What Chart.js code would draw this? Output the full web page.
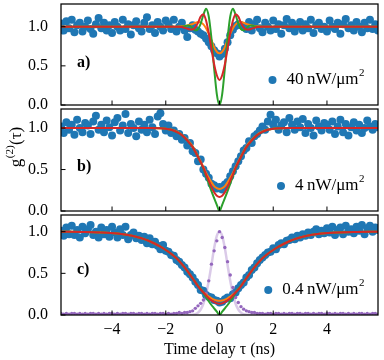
<!DOCTYPE html>
<html>
<head>
<meta charset="utf-8">
<script src="https://cdn.jsdelivr.net/npm/chart.js@4.4.0/dist/chart.umd.min.js"></script>
<style>
  html, body { margin: 0; padding: 0; background: #fff; }
  #wrap { position: relative; width: 384px; height: 360px; }
  #wrap canvas { position: absolute; left: 0; }
</style>
</head>
<body>
<div id="wrap">
  <canvas id="chartA" width="384" height="116" style="top:0px"></canvas>
  <canvas id="chartB" width="384" height="118" style="top:105px"></canvas>
  <canvas id="chartC" width="384" height="149" style="top:211px"></canvas>
</div>
<script>
// time delay bins (ns)
const tau = [
  -5.9, -5.8, -5.7, -5.6, -5.5, -5.4, -5.3, -5.2, -5.1, -5.0,
  -4.9, -4.8, -4.7, -4.6, -4.5, -4.4, -4.3, -4.2, -4.1, -4.0,
  -3.9, -3.8, -3.7, -3.6, -3.5, -3.4, -3.3, -3.2, -3.1, -3.0,
  -2.9, -2.8, -2.7, -2.6, -2.5, -2.4, -2.3, -2.2, -2.1, -2.0,
  -1.9, -1.8, -1.7, -1.6, -1.5, -1.4, -1.3, -1.2, -1.1, -1.0,
  -0.9, -0.8, -0.7, -0.6, -0.5, -0.4, -0.3, -0.2, -0.1, 0,
  0.1, 0.2, 0.3, 0.4, 0.5, 0.6, 0.7, 0.8, 0.9,
  1.0, 1.1, 1.2, 1.3, 1.4, 1.5, 1.6, 1.7, 1.8, 1.9,
  2.0, 2.1, 2.2, 2.3, 2.4, 2.5, 2.6, 2.7, 2.8, 2.9,
  3.0, 3.1, 3.2, 3.3, 3.4, 3.5, 3.6, 3.7, 3.8, 3.9,
  4.0, 4.1, 4.2, 4.3, 4.4, 4.5, 4.6, 4.7, 4.8, 4.9,
  5.0, 5.1, 5.2, 5.3, 5.4, 5.5, 5.6, 5.7, 5.8, 5.9
];

// measured g2 - panel a (40 nW/um2)
const g2A = [
  1.04, 0.95, 1.07, 0.98, 1.09, 0.93, 1.02, 1.05, 0.94, 1.00,
  1.08, 0.97, 0.91, 1.03, 1.11, 0.98, 1.05, 0.95, 1.02, 0.92,
  1.06, 1.00, 0.95, 1.09, 0.97, 1.03, 0.90, 1.02, 1.07, 0.98,
  0.94, 1.05, 1.12, 0.97, 1.02, 0.92, 1.06, 1.00, 0.95, 1.08,
  1.03, 0.97, 1.09, 0.94, 1.00, 1.05, 0.95, 0.87, 0.98, 1.02,
  0.96, 0.94, 0.91, 0.89, 0.85, 0.80, 0.75, 0.70, 0.66, 0.62,
  0.65, 0.72, 0.80, 0.89, 0.96, 1.01, 1.03, 1.02, 1.00,
  0.97, 1.06, 0.95, 1.03, 1.09, 0.98, 0.93, 1.05, 1.00, 0.95,
  1.08, 0.97, 1.03, 0.91, 1.02, 1.10, 0.98, 1.05, 0.94, 1.00,
  1.06, 0.95, 1.03, 0.98, 1.09, 0.92, 1.02, 1.05, 0.97, 1.00,
  0.94, 1.08, 1.00, 0.97, 1.05, 0.91, 1.03, 1.10, 0.98, 1.02,
  0.95, 1.06, 1.00, 0.93, 1.05, 0.98, 1.09, 0.97, 1.03, 0.95
];

// panel b (4 nW/um2)
const g2B = [
  1.02, 0.94, 1.07, 0.98, 1.04, 0.92, 1.10, 1.00, 0.95, 1.06,
  1.03, 0.93, 1.08, 1.15, 0.98, 1.04, 0.95, 1.09, 1.01, 0.91,
  1.07, 1.12, 0.97, 1.03, 1.17, 0.94, 1.05, 1.00, 0.90, 1.08,
  0.98, 1.04, 0.95, 1.10, 1.01, 0.93, 1.14, 1.18, 1.05, 0.97,
  1.03, 0.94, 0.97, 0.90, 0.93, 0.86, 0.88, 0.79, 0.82, 0.72,
  0.70, 0.60, 0.62, 0.50, 0.45, 0.40, 0.33, 0.31, 0.27, 0.29,
  0.26, 0.32, 0.35, 0.42, 0.48, 0.54, 0.60, 0.66, 0.73,
  0.76, 0.84, 0.82, 0.90, 0.93, 0.97, 1.02, 0.98, 1.08, 1.16,
  1.04, 1.10, 0.98, 1.03, 1.07, 0.95, 1.12, 1.04, 0.98, 1.08,
  1.01, 1.11, 0.94, 1.05, 1.00, 0.91, 1.09, 1.02, 0.97, 1.06,
  1.04, 0.98, 1.08, 0.93, 1.02, 1.10, 0.95, 1.05, 0.91, 1.01,
  1.07, 0.97, 1.04, 0.94, 1.00, 1.09, 1.02, 0.98, 1.05, 1.01
];

// panel c (0.4 nW/um2)
const g2C = [
  1.01, 0.95, 1.05, 0.97, 1.07, 0.96, 1.02, 0.93, 1.06, 0.98,
  1.03, 1.08, 0.96, 1.00, 0.93, 1.05, 0.97, 1.02, 0.94, 1.06,
  0.99, 0.93, 1.03, 0.96, 1.06, 0.91, 0.96, 0.99, 0.92, 0.95,
  0.90, 0.94, 0.86, 0.92, 0.85, 0.88, 0.83, 0.79, 0.84, 0.77,
  0.76, 0.72, 0.71, 0.66, 0.64, 0.60, 0.57, 0.52, 0.49, 0.45,
  0.40, 0.36, 0.30, 0.29, 0.24, 0.22, 0.21, 0.18, 0.17, 0.15,
  0.16, 0.19, 0.21, 0.20, 0.25, 0.27, 0.32, 0.36, 0.39,
  0.45, 0.48, 0.54, 0.57, 0.62, 0.66, 0.69, 0.72, 0.75, 0.76,
  0.80, 0.79, 0.84, 0.86, 0.85, 0.89, 0.90, 0.93, 0.91, 0.95,
  0.93, 0.97, 0.95, 0.99, 0.96, 1.00, 1.03, 0.97, 1.01, 0.98,
  1.04, 0.99, 1.06, 0.96, 1.02, 1.05, 0.97, 1.07, 1.00, 1.03,
  0.98, 1.06, 1.01, 1.08, 0.97, 1.04, 1.07, 1.00, 1.05, 1.02
];

// instrument response (panel c, purple)
const irfC = [
  0.02, 0.01, 0.02, 0.01, 0.02, 0.02, 0.01, 0.02, 0.01, 0.02,
  0.01, 0.02, 0.02, 0.01, 0.02, 0.01, 0.02, 0.01, 0.02, 0.02,
  0.01, 0.02, 0.01, 0.02, 0.02, 0.01, 0.02, 0.02, 0.01, 0.02,
  0.02, 0.01, 0.02, 0.01, 0.02, 0.02, 0.01, 0.02, 0.02, 0.01,
  0.02, 0.01, 0.02, 0.02, 0.03, 0.02, 0.03, 0.03, 0.04, 0.05,
  0.08, 0.11, 0.14, 0.18, 0.26, 0.41, 0.61, 0.77, 0.89, 1.00,
  0.93, 0.81, 0.64, 0.48, 0.33, 0.21, 0.15, 0.10, 0.07,
  0.05, 0.04, 0.03, 0.03, 0.02, 0.02, 0.02, 0.01, 0.02, 0.02,
  0.01, 0.02, 0.02, 0.01, 0.02, 0.01, 0.02, 0.02, 0.01, 0.02,
  0.02, 0.01, 0.02, 0.02, 0.01, 0.02, 0.01, 0.02, 0.02, 0.01,
  0.02, 0.02, 0.01, 0.02, 0.01, 0.02, 0.02, 0.01, 0.02, 0.01,
  0.02, 0.01, 0.02, 0.02, 0.01, 0.02, 0.01, 0.02, 0.02, 0.01
];

// model curves, panel a
const fitTauA = [-5.9, -2.0, -1.6, -1.4, -1.3, -1.2, -1.1, -1.0, -0.9, -0.8, -0.7, -0.6, -0.5, -0.4, -0.3, -0.2, -0.1,
  0, 0.1, 0.2, 0.3, 0.4, 0.5, 0.6, 0.7, 0.8, 0.9, 1.0, 1.1, 1.2, 1.3, 1.4, 1.6, 2.0, 5.9];
const greenA = [1.0, 1.0, 1.0, 1.0, 1.005, 1.015, 1.01, 0.98, 0.955, 0.97, 1.04, 1.15, 1.23, 1.13, 0.85, 0.47, 0.14,
  0.0, 0.14, 0.47, 0.85, 1.13, 1.23, 1.15, 1.04, 0.97, 0.955, 0.98, 1.01, 1.015, 1.005, 1.0, 1.0, 1.0, 1.0];
const redA = [1.0, 1.0, 1.0, 0.995, 0.985, 0.975, 0.965, 0.965, 0.99, 1.05, 1.13, 1.16, 1.08, 0.92, 0.72, 0.52, 0.38,
  0.32, 0.38, 0.52, 0.72, 0.92, 1.08, 1.16, 1.13, 1.05, 0.99, 0.965, 0.965, 0.975, 0.985, 0.995, 1.0, 1.0, 1.0];
const orangeA = [1.0, 1.0, 1.0, 1.005, 1.01, 1.015, 1.025, 1.035, 1.05, 1.06, 1.055, 1.03, 0.98, 0.91, 0.83, 0.74, 0.68,
  0.66, 0.68, 0.74, 0.83, 0.91, 0.98, 1.03, 1.055, 1.06, 1.05, 1.035, 1.025, 1.015, 1.01, 1.005, 1.0, 1.0, 1.0];

// model curves, panel b
const fitTauB = [-5.9, -2.6, -2.2, -2.0, -1.8, -1.6, -1.4, -1.2, -1.0, -0.8, -0.6, -0.5, -0.4, -0.3, -0.2, -0.1,
  0, 0.1, 0.2, 0.3, 0.4, 0.5, 0.6, 0.8, 1.0, 1.2, 1.4, 1.6, 1.8, 2.0, 2.2, 2.6, 5.9];
const orangeB = [1.0, 1.0, 0.998, 0.993, 0.982, 0.96, 0.92, 0.86, 0.78, 0.66, 0.53, 0.46, 0.40, 0.345, 0.30, 0.275,
  0.265, 0.275, 0.30, 0.345, 0.40, 0.46, 0.53, 0.66, 0.78, 0.86, 0.92, 0.96, 0.982, 0.993, 0.998, 1.0, 1.0];
const redB = [1.0, 1.0, 0.998, 0.993, 0.98, 0.955, 0.915, 0.85, 0.77, 0.65, 0.52, 0.44, 0.365, 0.29, 0.225, 0.185,
  0.17, 0.185, 0.225, 0.29, 0.365, 0.44, 0.52, 0.65, 0.77, 0.85, 0.915, 0.955, 0.98, 0.993, 0.998, 1.0, 1.0];
const greenB = [1.0, 1.0, 0.998, 0.993, 0.98, 0.955, 0.915, 0.85, 0.77, 0.65, 0.51, 0.42, 0.33, 0.24, 0.155, 0.075,
  0.0, 0.075, 0.155, 0.24, 0.33, 0.42, 0.51, 0.65, 0.77, 0.85, 0.915, 0.955, 0.98, 0.993, 0.998, 1.0, 1.0];

// model curves, panel c
const fitTauC = [-5.9, -5.0, -4.4, -3.8, -3.4, -3.0, -2.8, -2.6, -2.4, -2.2, -2.0, -1.8, -1.6, -1.4, -1.2, -1.0,
  -0.8, -0.7, -0.6, -0.5, -0.4, -0.3, -0.2, -0.1, 0, 0.1, 0.2, 0.3, 0.4, 0.5, 0.6, 0.7, 0.8,
  1.0, 1.2, 1.4, 1.6, 1.8, 2.0, 2.2, 2.4, 2.6, 2.8, 3.0, 3.4, 3.8, 4.4, 5.0, 5.9];
const orangeC = [1.0, 0.997, 0.99, 0.977, 0.96, 0.93, 0.91, 0.885, 0.855, 0.82, 0.78, 0.735, 0.68, 0.61, 0.53, 0.44,
  0.35, 0.31, 0.275, 0.245, 0.22, 0.20, 0.185, 0.175, 0.17, 0.175, 0.185, 0.20, 0.22, 0.245, 0.275, 0.31, 0.35,
  0.44, 0.53, 0.61, 0.68, 0.735, 0.78, 0.82, 0.855, 0.885, 0.91, 0.93, 0.96, 0.977, 0.99, 0.997, 1.0];
const redC = [1.0, 0.997, 0.99, 0.977, 0.96, 0.93, 0.91, 0.885, 0.855, 0.82, 0.78, 0.735, 0.68, 0.61, 0.53, 0.44,
  0.345, 0.305, 0.27, 0.235, 0.20, 0.175, 0.155, 0.14, 0.135, 0.14, 0.155, 0.175, 0.20, 0.235, 0.27, 0.305, 0.345,
  0.44, 0.53, 0.61, 0.68, 0.735, 0.78, 0.82, 0.855, 0.885, 0.91, 0.93, 0.96, 0.977, 0.99, 0.997, 1.0];
const greenC = [1.0, 0.997, 0.99, 0.977, 0.96, 0.93, 0.91, 0.885, 0.855, 0.82, 0.78, 0.735, 0.68, 0.61, 0.53, 0.44,
  0.35, 0.31, 0.265, 0.215, 0.165, 0.12, 0.08, 0.04, 0.0, 0.04, 0.08, 0.12, 0.165, 0.215, 0.265, 0.31, 0.35,
  0.44, 0.53, 0.61, 0.68, 0.735, 0.78, 0.82, 0.855, 0.885, 0.91, 0.93, 0.96, 0.977, 0.99, 0.997, 1.0];

// IRF fit line
const irfTau = [-5.9, -1.2, -1.0, -0.9, -0.8, -0.7, -0.6, -0.5, -0.4, -0.3, -0.2, -0.1,
  0, 0.1, 0.2, 0.3, 0.4, 0.5, 0.6, 0.7, 0.8, 0.9, 1.0, 1.2, 5.9];
const irfFit = [0, 0, 0.004, 0.011, 0.029, 0.066, 0.135, 0.25, 0.41, 0.6, 0.8, 0.95,
  1.0, 0.95, 0.8, 0.6, 0.41, 0.25, 0.135, 0.066, 0.029, 0.011, 0.004, 0, 0];

const xTicks = [-4, -2, 0, 2, 4];
const yTicks = [0, 0.5, 1.0];

const FONT = "'Liberation Serif', 'Times New Roman', serif";
const BLUE = '#1f77b4', ORANGE = '#ff7f0e', GREEN = '#2ca02c', RED = '#d62728', PURPLE = '#9467bd';

Chart.defaults.font.family = FONT;
Chart.defaults.font.size = 16;
Chart.defaults.color = '#000';

const pts = (xs, ys) => xs.map((x, i) => ({ x: x, y: ys[i] }));

// frame, inward ticks, panel letter, legend and y title
const panelDecor = {
  id: 'panelDecor',
  afterDraw(chart, args, opts) {
    const ctx = chart.ctx, a = chart.chartArea;
    const xs = chart.scales.x, ys = chart.scales.y;
    ctx.save();
    ctx.strokeStyle = '#000';
    ctx.lineWidth = 1.25;
    ctx.strokeRect(a.left, a.top, a.right - a.left, a.bottom - a.top);
    ctx.lineWidth = 1;
    ctx.beginPath();
    yTicks.forEach(v => {
      const py = ys.getPixelForValue(v);
      ctx.moveTo(a.left, py); ctx.lineTo(a.left + 4.5, py);
    });
    xTicks.forEach(v => {
      const px = xs.getPixelForValue(v);
      ctx.moveTo(px, a.bottom); ctx.lineTo(px, a.bottom - 4.5);
    });
    ctx.stroke();

    ctx.fillStyle = '#000';
    ctx.textBaseline = 'middle';
    ctx.textAlign = 'left';
    ctx.font = 'bold 16px ' + FONT;
    ctx.fillText(opts.label, a.left + 16, ys.getPixelForValue(0.5) - 3);

    // legend, lower right
    const ly = a.bottom - 25;
    ctx.font = '17px ' + FONT;
    const wMain = ctx.measureText(opts.legend).width;
    ctx.font = '11px ' + FONT;
    const wSup = ctx.measureText('2').width;
    const tx = a.right - 14 - wSup - wMain;
    ctx.font = '17px ' + FONT;
    ctx.fillText(opts.legend, tx, ly);
    ctx.font = '11px ' + FONT;
    ctx.fillText('2', tx + wMain + 0.5, ly - 7);
    ctx.beginPath();
    ctx.arc(tx - 14, ly, 4, 0, Math.PI * 2);
    ctx.fillStyle = BLUE;
    ctx.fill();

    if (opts.yTitle) {
      ctx.fillStyle = '#000';
      ctx.translate(21, opts.yTitleY);
      ctx.rotate(-Math.PI / 2);
      ctx.textBaseline = 'alphabetic';
      ctx.font = '17px ' + FONT;
      const wg = ctx.measureText('g').width, wt = ctx.measureText('(τ)').width;
      ctx.font = '11px ' + FONT;
      const ws = ctx.measureText('(2)').width;
      let x0 = -(wg + ws + wt + 1) / 2;
      ctx.font = '17px ' + FONT;
      ctx.fillText('g', x0, 0);
      ctx.font = '11px ' + FONT;
      ctx.fillText('(2)', x0 + wg + 0.5, -8);
      ctx.font = '17px ' + FONT;
      ctx.fillText('(τ)', x0 + wg + ws + 1, 0);
    }
    ctx.restore();
  }
};

function lineSet(xs, ys, color, width) {
  return {
    data: pts(xs, ys), showLine: true, borderColor: color, borderWidth: width || 2,
    pointRadius: 0, cubicInterpolationMode: 'monotone', clip: 0
  };
}

function dotSet(ys, color, r) {
  return {
    data: pts(tau, ys), showLine: false, pointRadius: r, pointBackgroundColor: color,
    pointBorderWidth: 0, borderColor: color, clip: 0
  };
}

function makeChart(id, datasets, yMax, pad, showX, decor) {
  return new Chart(document.getElementById(id), {
    type: 'scatter',
    data: { datasets: datasets },
    options: {
      responsive: false,
      animation: false,
      events: [],
      layout: { padding: { left: 0, right: 6, top: pad[0], bottom: pad[1] } },
      plugins: { legend: { display: false }, tooltip: { enabled: false }, panelDecor: decor },
      scales: {
        x: {
          type: 'linear', min: -5.9, max: 5.9, display: showX,
          afterBuildTicks: s => { s.ticks = xTicks.map(v => ({ value: v })); },
          afterFit: s => { if (showX) s.height = 45; s.paddingLeft = 0; s.paddingRight = 0; },
          grid: { display: false, drawTicks: false },
          border: { display: false },
          ticks: { padding: 5, callback: v => v < 0 ? '\u2212' + Math.abs(v) : String(v) },
          title: { display: showX, text: 'Time delay τ (ns)', padding: { top: 0, bottom: 1 } }
        },
        y: {
          min: 0, max: yMax,
          afterBuildTicks: s => { s.ticks = yTicks.map(v => ({ value: v })); },
          afterFit: s => { s.width = 61; s.paddingTop = 0; s.paddingBottom = 0; },
          grid: { display: false, drawTicks: false },
          border: { display: false },
          ticks: { padding: 13, callback: v => v.toFixed(1) }
        }
      }
    },
    plugins: [panelDecor]
  });
}

// first dataset is drawn on top
makeChart('chartA', [
  lineSet(fitTauA, redA, RED),
  lineSet(fitTauA, greenA, GREEN),
  lineSet(fitTauA, orangeA, ORANGE),
  dotSet(g2A, BLUE, 4)
], 1.29, [1, 11], false, { label: 'a)', legend: '40\u2009nW/μm' });

makeChart('chartB', [
  lineSet(fitTauB, redB, RED),
  lineSet(fitTauB, greenB, GREEN),
  lineSet(fitTauB, orangeB, ORANGE),
  dotSet(g2B, BLUE, 4)
], 1.23, [0, 12], false, { label: 'b)', legend: '4\u2009nW/μm', yTitle: true, yTitleY: 42 });

makeChart('chartC', [
  lineSet(fitTauC, redC, RED),
  lineSet(fitTauC, greenC, GREEN),
  lineSet(fitTauC, orangeC, ORANGE),
  dotSet(irfC, PURPLE, 1.7),
  lineSet(irfTau, irfFit, 'rgba(148, 103, 189, 0.35)', 2.5),
  dotSet(g2C, BLUE, 4)
], 1.2, [0, 0], true, { label: 'c)', legend: '0.4\u2009nW/μm' });
</script>
</body>
</html>
